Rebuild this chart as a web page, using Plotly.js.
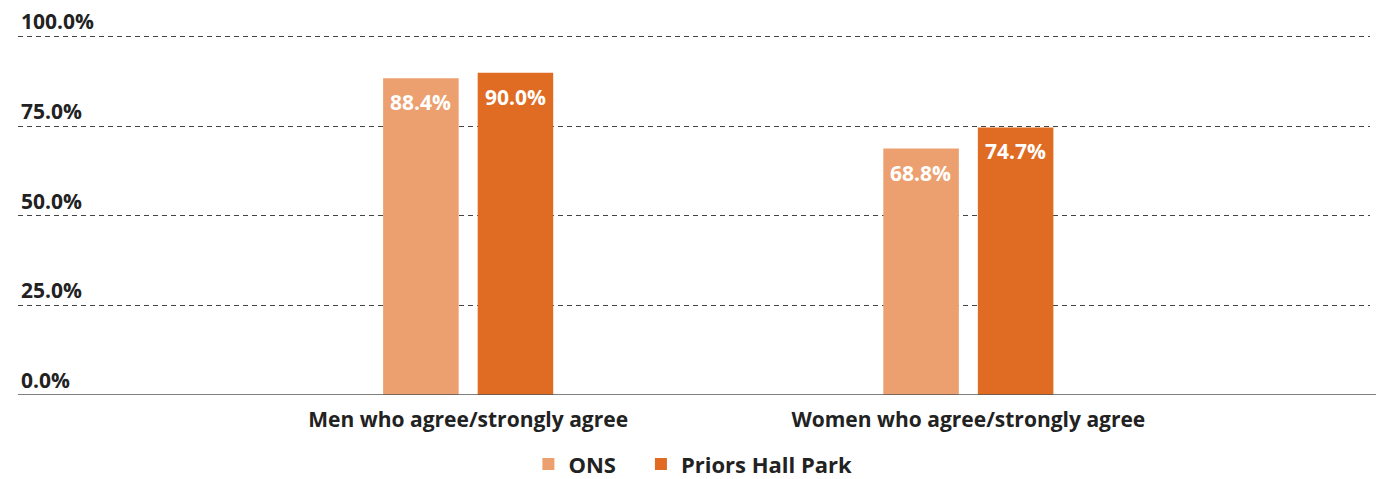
<!DOCTYPE html>
<html>
<head>
<meta charset="utf-8">
<script src="https://cdn.plot.ly/plotly-3.0.1.min.js"></script>
<style>html,body{margin:0;padding:0;background:#fff;}#chart{width:1376px;height:479px;}</style>
</head>
<body>
<div id="chart"></div>
<script>
const categories = ["Men who agree/strongly agree", "Women who agree/strongly agree"];
const onsValues = [88.4, 68.8];
const priorsValues = [90.0, 74.7];
const seriesNames = ["ONS", "Priors Hall Park"];
const tickValues = [0, 25, 50, 75, 100];
const tickLabels = ["0.0%", "25.0%", "50.0%", "75.0%", "100.0%"];

const FONT = "Open Sans, sans-serif";
const colors = ["#EDA06F", "#E06C23"];

const traces = [
  {type: "bar", name: seriesNames[0], x: categories, y: onsValues, marker: {color: colors[0]}, hoverinfo: "none", legend: "legend"},
  {type: "bar", name: seriesNames[1], x: categories, y: priorsValues, marker: {color: colors[1]}, hoverinfo: "none", legend: "legend2"}
];

const annotations = [];
[onsValues, priorsValues].forEach((vals, si) => {
  vals.forEach((v, ci) => {
    annotations.push({
      x: categories[ci], y: v, xref: "x", yref: "y",
      text: "<b>" + v.toFixed(1) + "%</b>",
      showarrow: false, xshift: si === 0 ? -47.5 : 47.5, yshift: -24,
      font: {family: FONT, size: 21, color: "#ffffff"}
    });
  });
});

const legendBase = {orientation: "h", xref: "container", xanchor: "left", yref: "container", y: 0.031, yanchor: "middle",
  font: {family: FONT, size: 22, color: "#222", weight: "bold"}, itemwidth: 30};

const layout = {
  width: 1376, height: 479,
  margin: {l: 18, r: 6, t: 1, b: 84, autoexpand: false},
  paper_bgcolor: "#fff", plot_bgcolor: "#fff",
  barmode: "group", bargap: 0.622, bargroupgap: 0.201,
  font: {family: FONT, color: "#222"},
  xaxis: {
    range: [-0.9, 1.803], showgrid: false, zeroline: false, showline: false, automargin: false,
    ticks: "", tickfont: {family: FONT, size: 21, color: "#222", weight: "bold"},
    ticklabelstandoff: 10
  },
  yaxis: {
    range: [0, 110], tickvals: tickValues, ticktext: tickLabels, automargin: false,
    ticklabelposition: "inside top", showgrid: true, gridcolor: "#444", gridwidth: 1,
    griddash: "5px,4px", zeroline: false, showline: false, ticks: "",
    tickfont: {family: FONT, size: 21, color: "#222", weight: "bold"}
  },
  showlegend: true,
  legend: Object.assign({}, legendBase, {x: 0.384}),
  legend2: Object.assign({}, legendBase, {x: 0.4658}),
  shapes: [{type: "line", xref: "paper", yref: "y", x0: 0, x1: 1.005, y0: 0, y1: 0, line: {color: "#555", width: 1.5}}],
  annotations: annotations
};

Plotly.newPlot("chart", traces, layout, {displayModeBar: false, staticPlot: true});
</script>
</body>
</html>
